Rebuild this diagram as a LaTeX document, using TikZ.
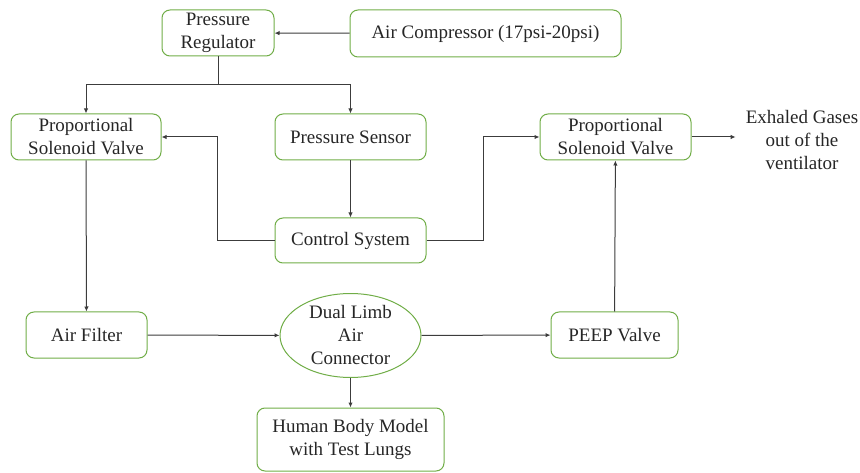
\documentclass[tikz,border=0pt]{standalone}
\usepackage{fontspec}
\setmainfont{Liberation Serif}
\newfontfamily\diagfont{Liberation Serif}
\usetikzlibrary{positioning, arrows.meta, shapes.geometric}
\definecolor{BoxGreen}{RGB}{112,173,71}
\definecolor{LineGray}{RGB}{60,60,60}

\begin{document}
\begin{tikzpicture}[x=1pt, y=-1pt, every node/.style={font=\diagfont\fontsize{19}{23}\selectfont, text=black!85},
    box/.style={draw=BoxGreen, rounded corners=8pt, line width=1pt, align=center, inner sep=0pt},
    flow/.style={-{Latex[length=5pt, width=4.5pt]}, draw=LineGray, line width=1pt}]
    \useasboundingbox (0,0) rectangle (860,473);
    % Boxes
    \node[box, minimum width=112pt, minimum height=46pt] (regulator) at (218,33) {Pressure\\Regulator};
    \node[box, minimum width=271pt, minimum height=47pt] (compressor) at (485.5,33.5) {Air Compressor (17psi-20psi)};
    \node[box, minimum width=150pt, minimum height=46pt] (valvein) at (86,137) {Proportional\\Solenoid Valve};
    \node[box, minimum width=151pt, minimum height=46pt] (sensor) at (350.5,137) {Pressure Sensor};
    \node[box, minimum width=151pt, minimum height=45pt] (control) at (350.5,240.5) {Control System};
    \node[box, minimum width=151pt, minimum height=46pt] (valveout) at (615.5,137) {Proportional\\Solenoid Valve};
    \node[align=center, inner sep=10pt] (exhaled) at (802,140) {Exhaled Gases\\out of the\\ventilator};
    \node[box, minimum width=121pt, minimum height=46pt] (filter) at (86.5,335) {Air Filter};
    \node[draw=BoxGreen, ellipse, line width=1pt, minimum width=141pt, minimum height=73pt, inner sep=0pt, align=center] (connector) at (350.5,335.5) {Dual Limb\\Air\\Connector};
    \node[box, minimum width=127pt, minimum height=46pt] (peep) at (614.5,335) {PEEP Valve};
    \node[box, minimum width=187pt, minimum height=63pt] (lungs) at (350.5,439.5) {Human Body Model\\with Test Lungs};

    % Arrows
    \coordinate (split) at (218,85);
    \draw[flow] (compressor) -- (regulator);
    \draw[flow] (regulator) -- (split) -| (valvein);
    \draw[flow] (split) -| (sensor);
    \draw[flow] (sensor) -- (control);
    \draw[flow] (control.west) -- ++(-57,0) |- (valvein);
    \draw[flow] (control.east) -- ++(57,0) |- (valveout);
    \draw[flow] (valveout.east) -- (valveout.east -| exhaled.west);
    \draw[flow] (valvein) -- (filter);
    \draw[flow] (filter) -- (connector);
    \draw[flow] (connector) -- (peep);
    \draw[flow] (peep) -- (valveout);
    \draw[flow] (connector) -- (lungs);
\end{tikzpicture}
\end{document}
